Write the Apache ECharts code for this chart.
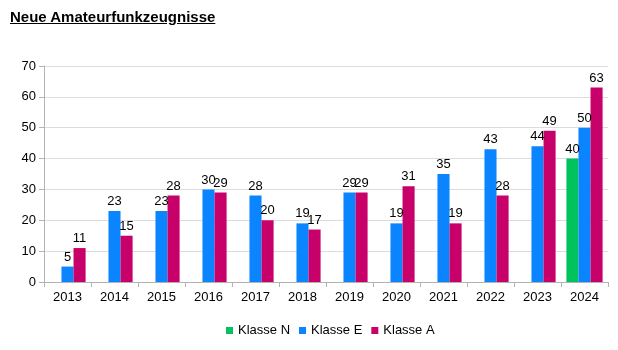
<!DOCTYPE html>
<html>
<head>
<meta charset="utf-8">
<script src="https://cdn.jsdelivr.net/npm/echarts@6/dist/echarts.min.js"></script>
<style>
  html, body { margin: 0; padding: 0; background: #fff; }
  #wrap { position: relative; width: 618px; height: 350px; }
  #title {
    position: absolute; left: 10px; top: 8px;
    font: bold 15px "Liberation Sans", Arial, sans-serif;
    text-decoration: underline; color: #000;
  }
  #chart { width: 618px; height: 350px; }
</style>
</head>
<body>
<div id="wrap">
  <div id="chart"></div>
  <div id="title">Neue Amateurfunkzeugnisse</div>
</div>
<script>
const years = ["2013", "2014", "2015", "2016", "2017", "2018", "2019", "2020", "2021", "2022", "2023", "2024"];
const klasseN = [null, null, null, null, null, null, null, null, null, null, null, 40];
const klasseE = [5, 23, 23, 30, 28, 19, 29, 19, 35, 43, 44, 50];
const klasseA = [11, 15, 28, 29, 20, 17, 29, 31, 19, 28, 49, 63];

const font = "Liberation Sans";
const myChart = echarts.init(document.getElementById("chart"));

function bar(name, data, color) {
  return {
    type: "bar",
    name: name,
    data: data,
    barGap: 0,
    barCategoryGap: "23%",
    itemStyle: { color: color },
    label: {
      show: true,
      position: "top",
      distance: 3,
      color: "#000",
      fontFamily: font,
      fontSize: 13,
    },
  };
}

myChart.setOption({
  animation: false,
  grid: { left: 44, right: 10, top: 66, bottom: 68 },
  legend: {
    bottom: 8,
    left: 221,
    itemWidth: 7,
    itemHeight: 7,
    itemGap: 9,
    icon: "rect",
    textStyle: { fontFamily: font, fontSize: 13, color: "#000" },
  },
  xAxis: {
    type: "category",
    data: years,
    axisLine: { lineStyle: { color: "#b3b3b3" } },
    axisTick: { show: true, length: 5, lineStyle: { color: "#b3b3b3" } },
    axisLabel: { color: "#000", fontFamily: font, fontSize: 13, margin: 9 },
  },
  yAxis: {
    type: "value",
    min: 0,
    max: 70,
    interval: 10,
    axisLine: { show: true, lineStyle: { color: "#b3b3b3" } },
    axisTick: { show: true, length: 5, lineStyle: { color: "#b3b3b3" } },
    axisLabel: { color: "#000", fontFamily: font, fontSize: 13, margin: 8 },
    splitLine: { lineStyle: { color: "#dcdcdc" } },
  },
  series: [
    bar("Klasse N", klasseN, "#00c35e"),
    bar("Klasse E", klasseE, "#0a84ff"),
    bar("Klasse A", klasseA, "#c8006a"),
  ],
});
</script>
</body>
</html>
